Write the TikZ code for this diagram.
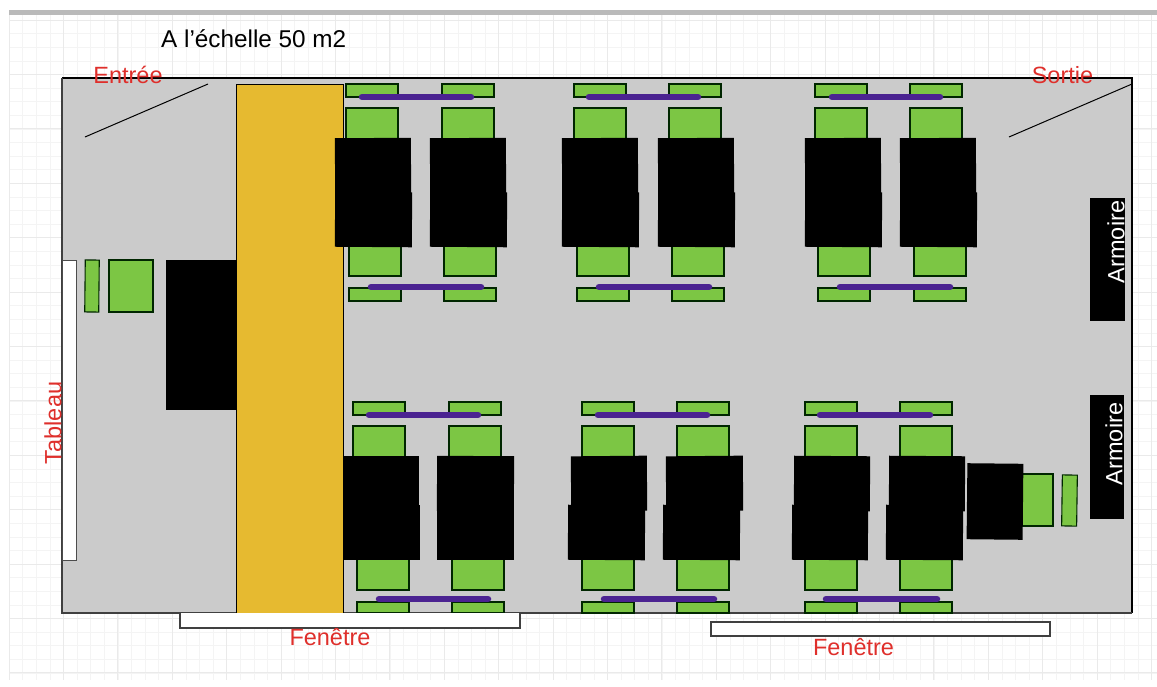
\documentclass[tikz,border=0pt]{standalone}
\usepackage{fontspec}
\setmainfont{Liberation Sans}
\definecolor{roomgray}{HTML}{CBCBCB}
\definecolor{chairgreen}{HTML}{7CC644}
\definecolor{aisle}{HTML}{E6BA30}
\definecolor{barpurple}{HTML}{4B2391}
\definecolor{labelred}{HTML}{DF2F2B}
\definecolor{gridminor}{HTML}{F4F4F4}
\definecolor{gridmajor}{HTML}{EAEAEA}
\tikzset{
  chairbox/.style={draw=black!85!green,line width=1.1pt,fill=chairgreen},
  deskfill/.style={fill=black},
  planlabel/.style={text=labelred,font=\fontsize{23.5}{24}\selectfont,inner sep=0pt},
  armoirelabel/.style={text=white,font=\fontsize{23.5}{24}\selectfont,inner sep=0pt,rotate=90},
  windowbox/.style={draw=black!75,line width=1.2pt,fill=white},
  doorline/.style={draw=black,line width=1pt},
  purplebar/.style={draw=barpurple,line width=6.5pt,line cap=round}
}
% #1 left x, #2 row offset in y: back and seat above the desks
\newcommand{\topchair}[2]{%
  \draw[chairbox] (#1,84+#2) rectangle (#1+52,97+#2);
  \draw[chairbox] (#1,108+#2) rectangle (#1+52,140+#2);}
% #3 is the bottom of the back rest
\newcommand{\lowchair}[3]{%
  \draw[chairbox] (#1,245+#2) rectangle (#1+52,276+#2);
  \draw[chairbox] (#1,288+#2) rectangle (#1+52,#3+#2);}
\newcommand{\deskbox}[4]{%
  \fill[deskfill,rotate around={#4:(#1+38,#2+27)}] (#1,#2) rectangle (#1+#3,#2+55);}
\newcommand{\pbar}[3]{\draw[purplebar] (#1,#3) -- (#2,#3);}
\begin{document}
\begin{tikzpicture}[x=1pt,y=-1pt]
\useasboundingbox (0,0) rectangle (1157,686);
\fill[white] (0,0) rectangle (1157,686);
% paper grid
\foreach \i in {0,...,84}{
  \draw[gridminor,line width=0.6pt] (9+13.6*\i,15) -- (9+13.6*\i,680);}
\foreach \i in {0,...,48}{
  \draw[gridminor,line width=0.6pt] (9,20+13.6*\i) -- (1157,20+13.6*\i);}
\foreach \i in {0,...,21}{
  \draw[gridmajor,line width=0.7pt] (9+54.4*\i,15) -- (9+54.4*\i,680);}
\foreach \i in {0,...,12}{
  \draw[gridmajor,line width=0.7pt] (9,20+54.4*\i) -- (1157,20+54.4*\i);}
\fill[black!27] (9,10) rectangle (1157,15);
% room
\fill[roomgray] (62,78) rectangle (1132,613);
\draw[black,line width=1.6pt] (62,78) -- (1132,78) -- (1132,613);
\draw[black!75,line width=1.3pt] (1132,613) -- (62,613) -- (62,78);
% doors
\draw[doorline] (85,137) -- (208,84);
\draw[doorline] (1009,137) -- (1132,84);
% aisle
\draw[black,line width=0.9pt,fill=aisle] (236,84) rectangle (343,613);
% front desk
\draw[black!70,line width=0.9pt,fill=white] (62,260) rectangle (76,560);
\draw[chairbox,rotate around={-0.6:(92,286)}] (85,260) rectangle (99,312);
\draw[chairbox] (109,260) rectangle (153,312);
\fill[deskfill] (166,260) rectangle (236,410);
% top row, group 1
\topchair{346}{0}\topchair{442}{0}
\lowchair{349}{0}{301}\lowchair{444}{0}{301}
\deskbox{335}{138}{76}{0.3}\deskbox{335}{192}{77}{-0.4}
\deskbox{430}{138}{76}{0.3}\deskbox{430}{192}{77}{-0.4}
\pbar{362}{471}{97}\pbar{371}{481}{287}
% top row, group 2
\topchair{574}{0}\topchair{669}{0}
\lowchair{577}{0}{301}\lowchair{672}{0}{301}
\deskbox{562}{138}{76}{0.3}\deskbox{562}{192}{77}{-0.4}
\deskbox{658}{138}{76}{0.3}\deskbox{658}{192}{77}{-0.4}
\pbar{589}{698}{97}\pbar{599}{709}{287}
% top row, group 3
\topchair{815}{0}\topchair{910}{0}
\lowchair{818}{0}{301}\lowchair{914}{0}{301}
\deskbox{805}{138}{76}{0.3}\deskbox{805}{192}{77}{-0.4}
\deskbox{900}{138}{76}{0.3}\deskbox{900}{192}{77}{-0.4}
\pbar{832}{940}{97}\pbar{840}{950}{287}
% bottom row, group 1
\topchair{353}{318}\topchair{449}{318}
\lowchair{357}{314}{299}\lowchair{452}{314}{299}
\deskbox{343}{456}{76}{0}\deskbox{343}{505}{77}{0}
\deskbox{437}{456}{77}{-0.3}\deskbox{437}{505}{77}{0}
\pbar{369}{478}{415}\pbar{379}{488}{599}
% bottom row, group 2
\topchair{582}{318}\topchair{677}{318}
\lowchair{582}{314}{299}\lowchair{677}{314}{299}
\deskbox{571}{456}{76}{0.5}\deskbox{666}{456}{77}{0.5}
\deskbox{568}{505}{77}{-0.4}\deskbox{663}{505}{77}{-0.4}
\pbar{598}{707}{415}\pbar{604}{714}{599}
% bottom row, group 3
\topchair{805}{318}\topchair{900}{318}
\lowchair{805}{314}{299}\lowchair{900}{314}{299}
\deskbox{794}{456}{76}{-0.4}\deskbox{889}{456}{76}{-0.4}
\deskbox{792}{505}{76}{-0.4}\deskbox{886}{505}{77}{-0.4}
\pbar{820}{930}{415}\pbar{826}{937}{599}
% side desk at the right
\draw[chairbox] (1020,474) rectangle (1053,526);
\draw[chairbox,rotate around={-0.8:(1069,500)}] (1062,475) rectangle (1077,526);
\fill[deskfill,rotate around={-0.6:(995,501)}] (967,463.500) rectangle (1023,539.500);
% cupboards
\node[fill=black,minimum width=35pt,minimum height=123pt,inner sep=0pt] (armoireA) at (1107.500,259.500) {};
\node[fill=black,minimum width=34pt,minimum height=124pt,inner sep=0pt] (armoireB) at (1107,457) {};
\node[armoirelabel] at (1116,242) {Armoire};
\node[armoirelabel] at (1114,444) {Armoire};
% windows
\draw[windowbox] (180,613) -- (180,628) -- (520,628) -- (520,613);
\fill[white] (180.600,614) rectangle (519.400,627.400);
\draw[windowbox] (711,622) rectangle (1050,636);
% texts
\node[anchor=west,inner sep=0pt,font=\fontsize{24.3}{25}\selectfont] at (161,39) {A l’échelle 50 m2};
\node[planlabel] at (128,75) {Entrée};
\node[planlabel] at (1062.500,75) {Sortie};
\node[planlabel] at (330,637) {Fenêtre};
\node[planlabel] at (853.500,647) {Fenêtre};
\node[planlabel,rotate=90] at (53,423) {Tableau};
\end{tikzpicture}
\end{document}
